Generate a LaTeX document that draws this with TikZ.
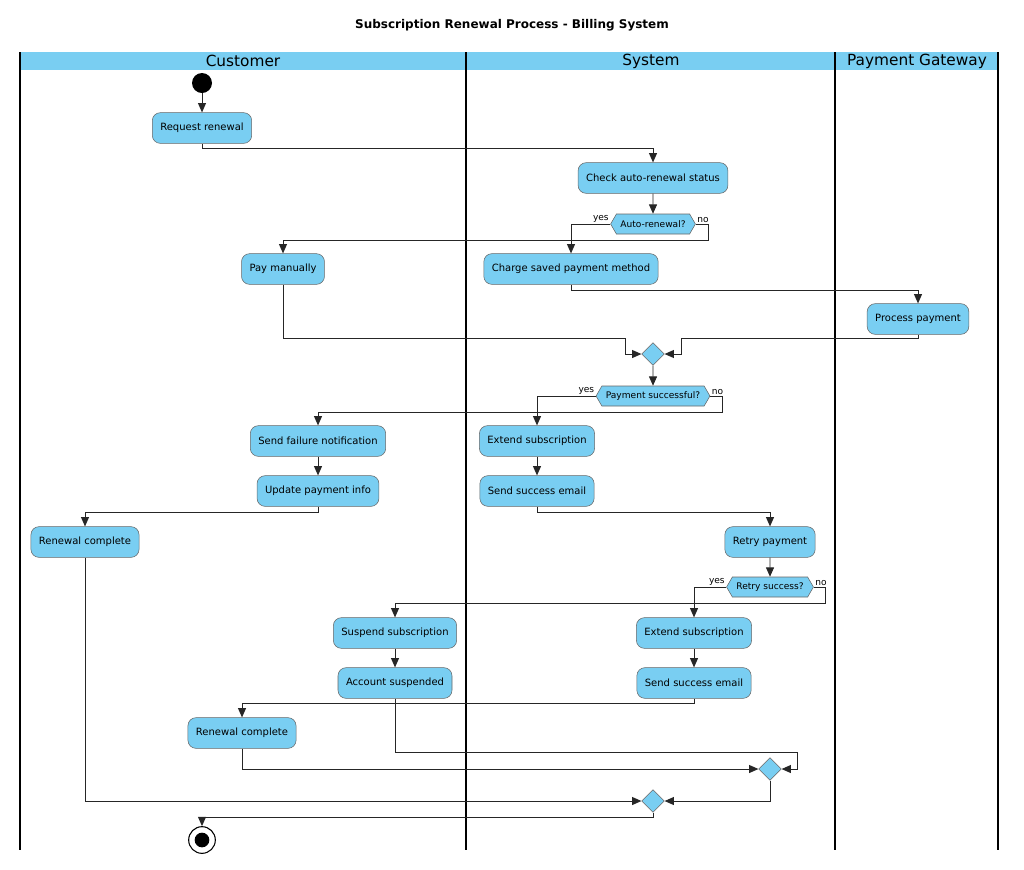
\documentclass[tikz,border=0pt]{standalone}
\usepackage{fontspec}
\setmainfont{DejaVu Sans}
\usetikzlibrary{shapes.geometric,shapes.symbols,arrows.meta}
\definecolor{actfill}{RGB}{121,206,242}
\tikzset{
  act/.style={draw=black!60, fill=actfill, rounded corners=6pt, minimum height=23pt,
    inner xsep=6pt, font=\fontsize{7.5}{9}\selectfont},
  cond/.style={draw=black!60, fill=actfill, shape=signal, signal to=west and east,
    signal pointer angle=120, minimum height=15pt, inner xsep=3pt, inner ysep=1pt,
    font=\fontsize{6.8}{8}\selectfont},
  merge/.style={draw=black!60, fill=actfill, diamond, minimum size=17pt, inner sep=0pt},
  flow/.style={-{Triangle[width=6pt,length=7pt]}, line width=0.7pt, black!85},
  lbl/.style={font=\fontsize{6.8}{8}\selectfont, inner sep=1pt}
}
\begin{document}
\begin{tikzpicture}[x=0.75pt, y=-0.75pt]
\useasboundingbox (0,0) rectangle (1024,869);
% Title and lanes
\node[font=\fontsize{9}{11}\selectfont\bfseries] (title) at (512,25) {Subscription Renewal Process - Billing System};
\fill[actfill] (20,52) rectangle (998,70);
\foreach \x in {20,466,835,998} \draw[line width=1pt] (\x,52) -- (\x,850);
\node[font=\fontsize{11.5}{13}\selectfont] (lcust) at (243,61) {Customer};
\node[font=\fontsize{11.5}{13}\selectfont] (lsys) at (651,61) {System};
\node[font=\fontsize{11.5}{13}\selectfont] (lpay) at (917,61) {Payment Gateway};

% Activities
\node[circle, fill=black, minimum size=15pt, inner sep=0pt] (start) at (202,83) {};
\node[act] (req) at (202,128) {Request renewal};
\node[act] (chk) at (653,178) {Check auto-renewal status};
\node[cond] (auto) at (653,224) {Auto-renewal?};
\node[act] (paym) at (283,269) {Pay manually};
\node[act] (charge) at (571,269) {Charge saved payment method};
\node[act] (proc) at (918,319) {Process payment};
\node[merge] (m1) at (653,354) {};
\node[cond] (succ) at (653,396) {Payment successful?};
\node[act] (fail) at (318,441) {Send failure notification};
\node[act] (upd) at (318,491) {Update payment info};
\node[act] (ext1) at (537,441) {Extend subscription};
\node[act] (mail1) at (537,491) {Send success email};
\node[act] (done1) at (85,542) {Renewal complete};
\node[act] (retry) at (770,542) {Retry payment};
\node[cond] (rsucc) at (770,587) {Retry success?};
\node[act] (susp) at (395,633) {Suspend subscription};
\node[act] (acc) at (395,683) {Account suspended};
\node[act] (ext2) at (694,633) {Extend subscription};
\node[act] (mail2) at (694,683) {Send success email};
\node[act] (done2) at (242,733) {Renewal complete};
\node[merge] (m2) at (770,769) {};
\node[merge] (m3) at (653,801) {};
\node[circle, draw, line width=0.8pt, minimum size=20pt, inner sep=0pt] (stop) at (202,840) {};
\fill (stop) circle (5.5pt);

% Flows
\draw[flow] (start) -- (req);
\draw[flow] (req.south) -- ++(0,5) -| (chk.north);
\draw[flow] (chk) -- (auto);
\draw[flow] (auto.west) -| (charge.north);
\node[lbl, anchor=south east] (yes1) at (auto.west) {yes};
\draw[flow] (auto.east) -- ++(13,0) |- ++(-100,16) -| (paym.north);
\node[lbl, anchor=south west] (no1) at (auto.east) {no};
\draw[flow] (charge.south) -- ++(0,6) -| (proc.north);
\draw[flow] (paym.south) |- (625,338) |- (m1.west);
\draw[flow] (proc.south) |- (681,338) |- (m1.east);
\draw[flow] (m1) -- (succ);
\draw[flow] (succ.west) -| (ext1.north);
\node[lbl, anchor=south east] (yes2) at (succ.west) {yes};
\draw[flow] (succ.east) -- ++(12,0) |- ++(-100,16) -| (fail.north);
\node[lbl, anchor=south west] (no2) at (succ.east) {no};
\draw[flow] (fail) -- (upd);
\draw[flow] (ext1) -- (mail1);
\draw[flow] (upd.south) -- ++(0,6) -| (done1.north);
\draw[flow] (mail1.south) -- ++(0,6) -| (retry.north);
\draw[flow] (retry) -- (rsucc);
\draw[flow] (rsucc.west) -| (ext2.north);
\node[lbl, anchor=south east] (yes3) at (rsucc.west) {yes};
\draw[flow] (rsucc.east) -- ++(12,0) |- ++(-100,16) -| (susp.north);
\node[lbl, anchor=south west] (no3) at (rsucc.east) {no};
\draw[flow] (susp) -- (acc);
\draw[flow] (ext2) -- (mail2);
\draw[flow] (mail2.south) -- ++(0,5) -| (done2.north);
\draw[flow] (acc.south) |- (797,752) |- (m2.east);
\draw[flow] (done2.south) |- (m2.west);
\draw[flow] (m2.south) |- (m3.east);
\draw[flow] (done1.south) |- (m3.west);
\draw[flow] (m3.south) -- ++(0,5) -| (stop.north);
\end{tikzpicture}
\end{document}
